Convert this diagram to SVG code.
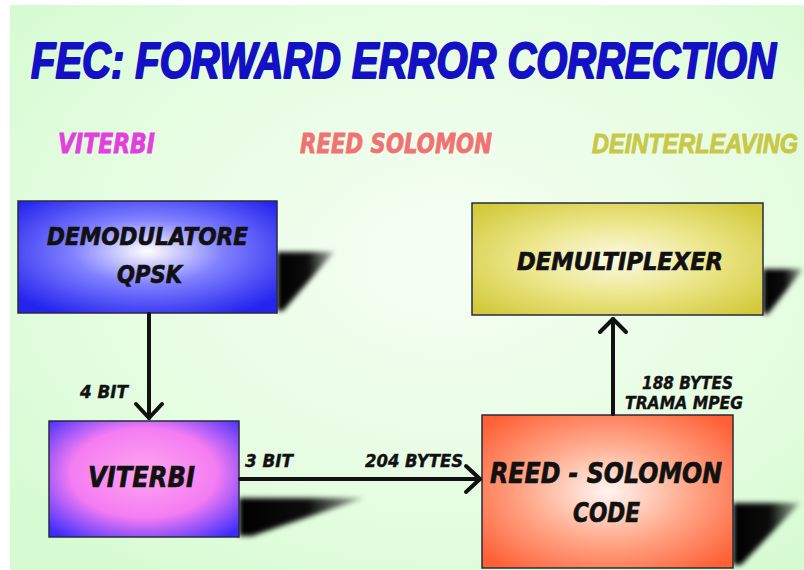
<svg xmlns="http://www.w3.org/2000/svg" width="804" height="570" viewBox="0 0 804 570">
<defs>
<style>
.t{font-family:"DejaVu Sans","Liberation Sans",sans-serif;font-weight:bold;font-style:italic;}
.ls{font-family:"Liberation Sans",Arial,sans-serif;font-weight:bold;font-style:italic;}
.title{font-size:40px;fill:#1410c4;stroke:#1410c4;stroke-width:1.6;stroke-linejoin:round;}
.hdr{font-size:26px;stroke-width:0.8;}
.node{font-size:24px;fill:#111;stroke:#111;stroke-width:0.7;}
.lbl{font-size:17px;fill:#111;stroke:#111;stroke-width:0.4;}
.box{stroke:#2a2a40;stroke-width:1.5;}
.conn{stroke:#111;stroke-width:4;fill:none;stroke-linecap:round;stroke-linejoin:round;}
.sh{fill:url(#shg);filter:url(#blur);}
</style>
<radialGradient id="bg" cx="0.55" cy="0.45" r="0.7">
<stop offset="0" stop-color="#f6fff4"/>
<stop offset="0.6" stop-color="#e6fde2"/>
<stop offset="1" stop-color="#d6fbd2"/>
</radialGradient>
<radialGradient id="gDemod" cx="0.5" cy="0.45" r="0.65">
<stop offset="0" stop-color="#ffffff"/>
<stop offset="0.45" stop-color="#8080ff"/>
<stop offset="1" stop-color="#2424ee"/>
</radialGradient>
<radialGradient id="gVit" cx="0.5" cy="0.45" r="0.7">
<stop offset="0" stop-color="#ffa6f0"/>
<stop offset="0.55" stop-color="#f47cf2"/>
<stop offset="1" stop-color="#3a2cff"/>
</radialGradient>
<radialGradient id="gDemux" cx="0.5" cy="0.5" r="0.65">
<stop offset="0" stop-color="#fcfae6"/>
<stop offset="0.5" stop-color="#ece68a"/>
<stop offset="1" stop-color="#d2ca3c"/>
</radialGradient>
<radialGradient id="gRS" cx="0.5" cy="0.5" r="0.65">
<stop offset="0" stop-color="#fff6f2"/>
<stop offset="0.5" stop-color="#ffa88a"/>
<stop offset="1" stop-color="#ff6036"/>
</radialGradient>
<linearGradient id="shg" x1="0" y1="0" x2="1" y2="0">
<stop offset="0" stop-color="#000"/>
<stop offset="0.55" stop-color="#000" stop-opacity="0.95"/>
<stop offset="1" stop-color="#000" stop-opacity="0.25"/>
</linearGradient>
<filter id="blur" x="-20%" y="-20%" width="140%" height="140%">
<feGaussianBlur stdDeviation="2.5"/>
</filter>
</defs>

<rect x="0" y="0" width="804" height="570" fill="#ffffff"/>
<rect x="10" y="5" width="794" height="565" fill="url(#bg)"/>

<text class="ls title" transform="translate(31,78) scale(1,1.25)" x="0" y="0" textLength="745" lengthAdjust="spacingAndGlyphs">FEC: FORWARD ERROR CORRECTION</text>
<text class="t hdr" x="58" y="153" fill="#e43ee0" stroke="#e43ee0" textLength="97" lengthAdjust="spacingAndGlyphs">VITERBI</text>
<text class="t hdr" x="300" y="153" fill="#f07272" stroke="#f07272" textLength="192" lengthAdjust="spacingAndGlyphs">REED SOLOMON</text>
<text class="ls hdr" transform="translate(592,153) scale(1,1.2)" x="0" y="0" style="font-size:23px" fill="#c8c848" stroke="#c8c848" textLength="206" lengthAdjust="spacingAndGlyphs">DEINTERLEAVING</text>

<g id="demodulatore">
<polygon class="sh" points="277,252 334,252 283,311 277,311"/>
<rect class="box" x="18" y="201" width="259" height="112" fill="url(#gDemod)"/>
<text class="t node" x="47" y="245" textLength="201" lengthAdjust="spacingAndGlyphs">DEMODULATORE</text>
<text class="t node" x="117" y="283" textLength="65" lengthAdjust="spacingAndGlyphs">QPSK</text>
</g>

<g id="viterbi">
<polygon class="sh" points="239,498 364,498 252,536 239,536"/>
<rect class="box" x="49" y="421" width="190" height="116" fill="url(#gVit)"/>
<text class="t node" x="88" y="487" style="font-size:28px" textLength="107" lengthAdjust="spacingAndGlyphs">VITERBI</text>
</g>

<g id="demultiplexer">
<polygon class="sh" points="763,269 803,269 768,314 763,314"/>
<rect class="box" x="472" y="203" width="291" height="112" fill="url(#gDemux)"/>
<text class="t node" x="517" y="270" textLength="206" lengthAdjust="spacingAndGlyphs">DEMULTIPLEXER</text>
</g>

<g id="reed-solomon">
<polygon class="sh" points="733,503 800,503 741,565 733,565"/>
<rect class="box" x="482" y="415" width="251" height="153" fill="url(#gRS)"/>
<text class="t node" x="490" y="483" style="font-size:28px" textLength="232" lengthAdjust="spacingAndGlyphs">REED - SOLOMON</text>
<text class="t node" x="573" y="522" style="font-size:27px" textLength="67" lengthAdjust="spacingAndGlyphs">CODE</text>
</g>

<g id="connectors">
<line class="conn" x1="149" y1="314" x2="149" y2="418"/>
<polyline class="conn" points="136,404 149,418 162,404"/>
<line class="conn" x1="240" y1="479" x2="480" y2="479"/>
<polyline class="conn" points="466,466 480,479 466,492"/>
<line class="conn" x1="613" y1="414" x2="613" y2="319"/>
<polyline class="conn" points="600,332 613,319 626,332"/>
</g>

<g id="labels">
<text class="t lbl" x="80" y="398" textLength="48" lengthAdjust="spacingAndGlyphs">4 BIT</text>
<text class="t lbl" x="245" y="467" textLength="48" lengthAdjust="spacingAndGlyphs">3 BIT</text>
<text class="t lbl" x="365" y="467" textLength="98" lengthAdjust="spacingAndGlyphs">204 BYTES</text>
<text class="t lbl" x="642" y="389" textLength="91" lengthAdjust="spacingAndGlyphs">188 BYTES</text>
<text class="t lbl" x="625" y="409" textLength="118" lengthAdjust="spacingAndGlyphs">TRAMA MPEG</text>
</g>
</svg>
